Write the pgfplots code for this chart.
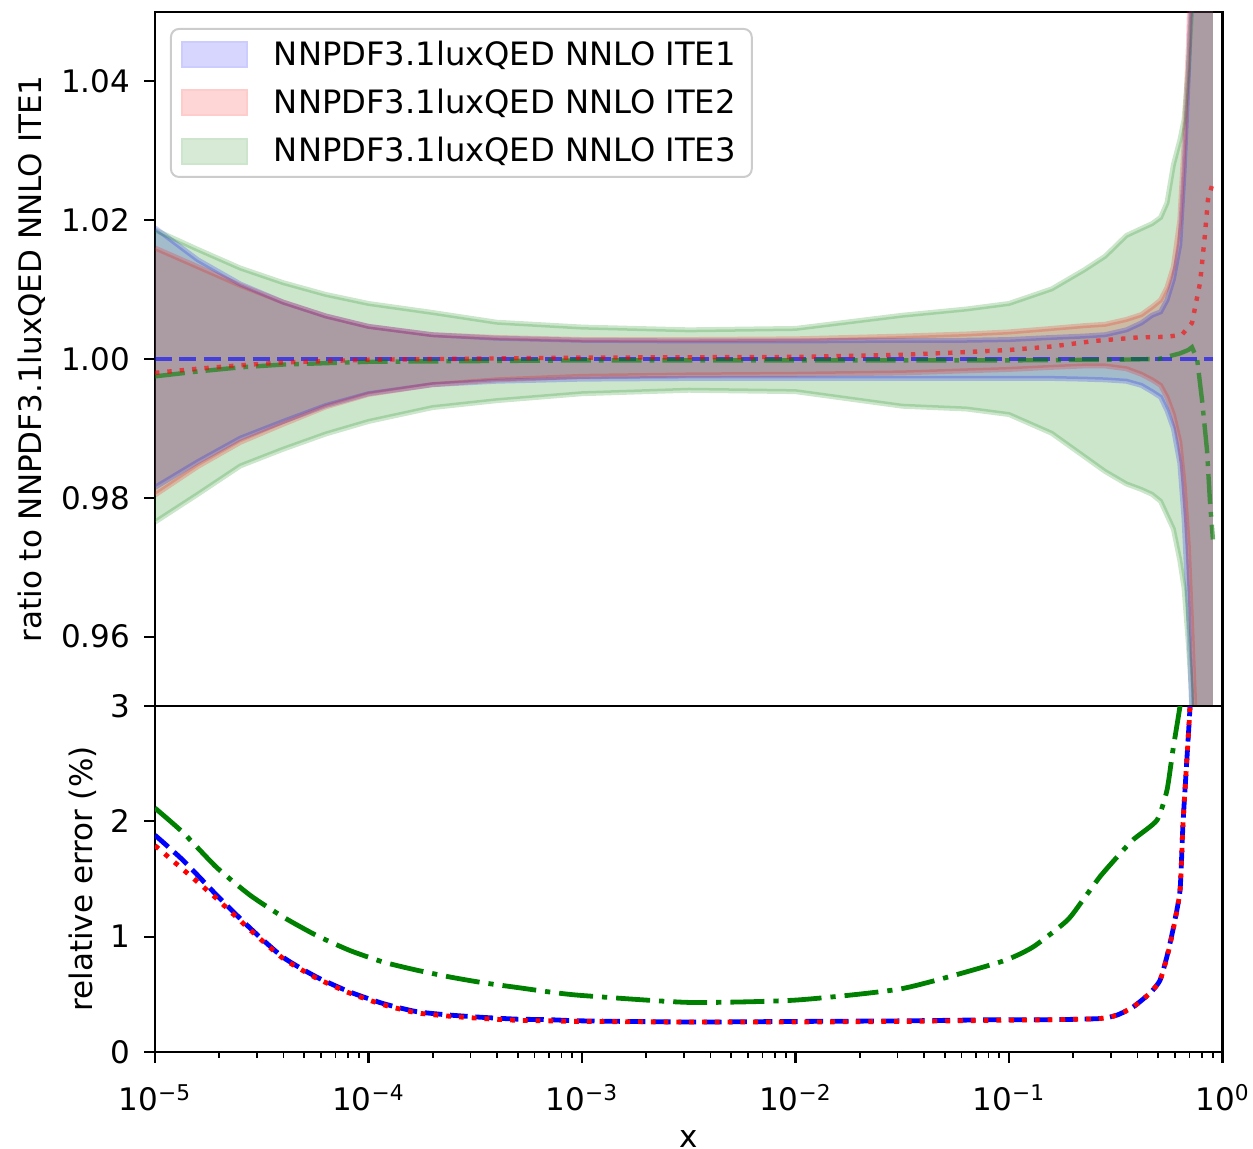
\documentclass[border=0pt]{standalone}
\usepackage{fontspec}
\setmainfont{DejaVu Sans}
\usepackage{pgfplots}
\pgfplotsset{compat=1.18}
\usepackage{pgfplotstable}
\usepgfplotslibrary{fillbetween}
\definecolor{mblue}{RGB}{0,0,255}
\definecolor{mred}{RGB}{255,0,0}
\definecolor{mgreen}{RGB}{0,128,0}

% ITE1 band (blue)
\pgfplotstableread{
x lo hi
1e-5 0.9815 1.0189
1.585e-5 0.9852 1.0143
2.512e-5 0.9886 1.0108
3.981e-5 0.9910 1.0082
6.310e-5 0.9933 1.0062
1e-4 0.9950 1.0047
1.995e-4 0.9963 1.0035
3.981e-4 0.9968 1.0030
1e-3 0.9971 1.0027
3.162e-3 0.9972 1.0026
1e-2 0.9972 1.0026
3.162e-2 0.9972 1.0027
6.310e-2 0.9972 1.0027
0.1 0.9972 1.0028
0.1585 0.9972 1.0031
0.2239 0.9971 1.0033
0.2818 0.9970 1.0035
0.3548 0.9968 1.0042
0.4169 0.9962 1.0052
0.4677 0.9953 1.0063
0.5129 0.9945 1.0068
0.5495 0.9926 1.0085
0.5888 0.9900 1.0115
0.6310 0.9850 1.0165
0.6607 0.9770 1.0270
0.6918 0.9640 1.0410
0.7161 0.9500 1.0550
0.7413 0.9300 1.0800
0.7762 0.8 1.2
0.8128 0.8 1.2
0.8511 0.8 1.2
0.9016 0.8 1.2
}\bandA
% ITE2 band (red)
\pgfplotstableread{
x lo hi
1e-5 0.9804 1.0160
1.585e-5 0.9845 1.0133
2.512e-5 0.9880 1.0106
3.981e-5 0.9906 1.0082
6.310e-5 0.9931 1.0062
1e-4 0.9949 1.0047
1.995e-4 0.9963 1.0035
3.981e-4 0.9970 1.0031
1e-3 0.9975 1.0028
3.162e-3 0.9977 1.0028
1e-2 0.9978 1.0029
3.162e-2 0.9980 1.0033
6.310e-2 0.9983 1.0036
0.1 0.9985 1.0039
0.1585 0.9988 1.0044
0.2239 0.9990 1.0048
0.2818 0.9990 1.0050
0.3548 0.9986 1.0057
0.4169 0.9978 1.0064
0.4677 0.9970 1.0075
0.5129 0.9962 1.0085
0.5495 0.9945 1.0103
0.5888 0.9920 1.0133
0.6310 0.9880 1.0200
0.6607 0.9820 1.0310
0.6918 0.9730 1.0450
0.7161 0.9620 1.0600
0.7413 0.9500 1.0800
0.7762 0.9300 1.2
0.8128 0.8 1.2
0.8511 0.8 1.2
0.9016 0.8 1.2
}\bandB
% ITE3 band (green)
\pgfplotstableread{
x lo hi
1e-5 0.9765 1.0186
1.585e-5 0.9805 1.0158
2.512e-5 0.9846 1.0131
3.981e-5 0.9870 1.0110
6.310e-5 0.9892 1.0093
1e-4 0.9910 1.0080
1.995e-4 0.9930 1.0067
3.981e-4 0.9940 1.0053
1e-3 0.9950 1.0046
3.162e-3 0.9955 1.0042
1e-2 0.9953 1.0044
3.162e-2 0.9932 1.0063
6.310e-2 0.9928 1.0072
0.1 0.9920 1.0080
0.1585 0.9893 1.0101
0.2239 0.9860 1.0128
0.2818 0.9838 1.0148
0.3548 0.9820 1.0178
0.4169 0.9812 1.0188
0.4677 0.9805 1.0195
0.5129 0.9795 1.0204
0.5495 0.9775 1.0225
0.5888 0.9755 1.0280
0.6310 0.9710 1.0315
0.6607 0.9670 1.0345
0.6918 0.9590 1.0420
0.7161 0.9520 1.0500
0.7413 0.9300 1.0700
0.7762 0.8 1.2
0.8128 0.8 1.2
0.8511 0.8 1.2
0.9016 0.8 1.2
}\bandC
% central values
\pgfplotstableread{
x y
1e-5 1.0
0.9016 1.0
}\cenA
\pgfplotstableread{
x y
1e-5 0.9980
1.585e-5 0.9986
2.512e-5 0.9991
3.981e-5 0.9995
1e-4 0.9999
1e-3 1.0002
1e-2 1.0003
3.162e-2 1.0006
6.310e-2 1.0010
0.1 1.0013
0.1585 1.0018
0.2512 1.0026
0.3981 1.0031
0.5495 1.0032
0.6457 1.0035
0.7194 1.0052
0.7852 1.0110
0.8279 1.0180
0.8551 1.0230
0.8933 1.0250
}\cenB
\pgfplotstableread{
x y
1e-5 0.9975
1.585e-5 0.9982
2.512e-5 0.9988
3.981e-5 0.9992
1e-4 0.9996
1e-3 0.9998
1e-2 0.9998
0.1 0.9998
0.3162 0.9999
0.5012 1.0000
0.5623 1.0004
0.6310 1.0008
0.6918 1.0013
0.7194 1.0017
0.7603 1.0000
0.8017 0.9941
0.8453 0.9870
0.8730 0.9796
0.9016 0.9740
}\cenC
% relative errors
\pgfplotstableread{
x y
1e-5 1.88
1.358e-5 1.66
1.945e-5 1.36
2.786e-5 1.075
3.99e-5 0.82
5.715e-5 0.65
8.185e-5 0.52
1.172e-4 0.42
1.679e-4 0.35
2.41e-4 0.32
3.451e-4 0.30
4.943e-4 0.285
7.079e-4 0.28
1e-3 0.27
3.162e-3 0.26
1e-2 0.265
3.162e-2 0.27
9.078e-2 0.28
0.1585 0.28
0.2667 0.29
0.3206 0.32
0.3811 0.39
0.4571 0.51
0.5093 0.62
0.5495 0.83
0.5861 1.06
0.6324 1.40
0.6531 1.98
0.6823 2.56
0.7047 3.0
0.7244 3.6
0.7586 5.0
}\errA
\pgfplotstableread{
x y
1e-5 1.79
1.358e-5 1.58
1.945e-5 1.33
2.786e-5 1.06
3.99e-5 0.81
5.715e-5 0.64
8.185e-5 0.51
1.172e-4 0.41
1.679e-4 0.34
2.41e-4 0.31
3.451e-4 0.29
4.943e-4 0.275
7.079e-4 0.27
1e-3 0.265
3.162e-3 0.26
1e-2 0.26
3.162e-2 0.265
9.078e-2 0.275
0.1585 0.28
0.2667 0.29
0.3206 0.32
0.3811 0.39
0.4571 0.51
0.5093 0.62
0.5495 0.82
0.5861 1.05
0.6324 1.40
0.6531 1.98
0.6823 2.56
0.7047 3.0
0.7244 3.6
0.7586 5.0
}\errB
\pgfplotstableread{
x y
1e-5 2.115
1.358e-5 1.90
1.945e-5 1.60
2.786e-5 1.36
3.99e-5 1.17
5.715e-5 1.01
8.185e-5 0.88
1.172e-4 0.78
1.679e-4 0.71
2.41e-4 0.65
3.451e-4 0.60
4.943e-4 0.56
7.079e-4 0.52
1e-3 0.49
3.162e-3 0.43
1e-2 0.45
3.162e-2 0.55
9.078e-2 0.78
0.1294 0.91
0.1871 1.14
0.2223 1.32
0.2667 1.52
0.3206 1.69
0.3811 1.84
0.4932 2.01
0.5495 2.27
0.5861 2.62
0.6324 3.0
0.6607 3.3
}\errC

\newcommand{\fs}{\fontsize{15.5}{18}\selectfont}
\newcommand{\lfs}{\fontsize{16.1}{18}\selectfont}

\begin{document}
\begin{tikzpicture}[font=\fs]
% ---------- top panel ----------
\begin{axis}[
  scale only axis, width=533.75pt, height=347pt,
  at={(77.5pt,221pt)}, anchor=south west,
  xmode=log, xmin=1e-5, xmax=1,
  ymin=0.95, ymax=1.05,
  axis line style={line width=1.4pt},
  tick align=outside, tick pos=left,
  major tick length=5.3pt,
  every major tick/.append style={line width=1.1pt, black},
  tick label style={font=\fs},
  label style={font=\fs},
  yticklabel style={anchor=east, inner sep=0pt, xshift=-7pt},
  xtick=\empty,
  ytick={0.96,0.98,1.00,1.02,1.04},
  yticklabels={0.96,0.98,1.00,1.02,1.04},
  ylabel={ratio to NNPDF3.1luxQED NNLO ITE1},
  every axis y label/.style={at={([xshift=-61.5pt]axis description cs:0,0.5)}, rotate=90, anchor=center},
  legend style={at={(0.014,0.977)}, anchor=north west, font=\lfs,
    draw=black!20, line width=1pt, rounded corners=4pt,
    fill=white, fill opacity=0.8, text opacity=1,
    inner xsep=5pt, inner ysep=3pt, row sep=4.4pt,
    nodes={inner sep=3pt}},
  legend cell align=left,
]
% blue band
\addplot[draw=mblue, draw opacity=0.2, line width=2.5pt, name path=bu, forget plot] table[x=x,y=hi]{\bandA};
\addplot[draw=mblue, draw opacity=0.2, line width=2.5pt, name path=bl, forget plot] table[x=x,y=lo]{\bandA};
\addplot[fill=mblue, fill opacity=0.2, draw=none, forget plot] fill between[of=bu and bl];
% red band
\addplot[draw=mred, draw opacity=0.2, line width=2.5pt, name path=ru, forget plot] table[x=x,y=hi]{\bandB};
\addplot[draw=mred, draw opacity=0.2, line width=2.5pt, name path=rl, forget plot] table[x=x,y=lo]{\bandB};
\addplot[fill=mred, fill opacity=0.2, draw=none, forget plot] fill between[of=ru and rl];
% green band
\addplot[draw=mgreen, draw opacity=0.2, line width=2.5pt, name path=gu, forget plot] table[x=x,y=hi]{\bandC};
\addplot[draw=mgreen, draw opacity=0.2, line width=2.5pt, name path=gl, forget plot] table[x=x,y=lo]{\bandC};
\addplot[fill=mgreen, fill opacity=0.2, draw=none, forget plot] fill between[of=gu and gl];
% central lines
\addplot[draw=mblue, draw opacity=0.6, line width=2.2pt, dash pattern=on 8.5pt off 3.7pt, forget plot] table[x=x,y=y]{\cenA};
\addplot[draw=mgreen, draw opacity=0.6, line width=2.2pt, dash pattern=on 15pt off 4pt on 2.4pt off 4pt, forget plot] table[x=x,y=y]{\cenC};
\addplot[draw=mred, draw opacity=0.6, line width=2.2pt, dash pattern=on 2.2pt off 4pt, forget plot] table[x=x,y=y]{\cenB};
% legend
\addlegendimage{legend image code/.code={\fill[mblue!20, sharp corners] (0pt,-6.25pt) rectangle (32.5pt,6.25pt);}}
\addlegendentry{\hspace*{10pt}NNPDF3.1luxQED NNLO ITE1}
\addlegendimage{legend image code/.code={\fill[mred!20, sharp corners] (0pt,-6.25pt) rectangle (32.5pt,6.25pt);}}
\addlegendentry{\hspace*{10pt}NNPDF3.1luxQED NNLO ITE2}
\addlegendimage{legend image code/.code={\fill[mgreen!20, sharp corners] (0pt,-6.25pt) rectangle (32.5pt,6.25pt);}}
\addlegendentry{\hspace*{10pt}NNPDF3.1luxQED NNLO ITE3}
\end{axis}
% ---------- bottom panel ----------
\begin{axis}[
  scale only axis, width=533.75pt, height=173pt,
  at={(77.5pt,48pt)}, anchor=south west,
  xmode=log, xmin=1e-5, xmax=1,
  ymin=0, ymax=3,
  axis line style={line width=1.4pt},
  tick align=outside, tick pos=left,
  major tick length=5.3pt, minor tick length=2.8pt,
  every major tick/.append style={line width=1.1pt, black},
  every minor tick/.append style={line width=0.8pt, black},
  tick label style={font=\fs},
  label style={font=\fs},
  yticklabel style={anchor=east, inner sep=0pt, xshift=-7pt},
  xticklabel style={anchor=base, inner sep=0pt, yshift=-24pt},
  ytick={0,1,2,3}, yticklabels={0,1,2,3},
  xtick={1e-5,1e-4,1e-3,1e-2,1e-1,1},
  xticklabels={10\textsuperscript{−5},10\textsuperscript{−4},10\textsuperscript{−3},10\textsuperscript{−2},10\textsuperscript{−1},10\textsuperscript{0}},
  minor xtick={2e-5,3e-5,4e-5,5e-5,6e-5,7e-5,8e-5,9e-5,2e-4,3e-4,4e-4,5e-4,6e-4,7e-4,8e-4,9e-4,2e-3,3e-3,4e-3,5e-3,6e-3,7e-3,8e-3,9e-3,2e-2,3e-2,4e-2,5e-2,6e-2,7e-2,8e-2,9e-2,0.2,0.3,0.4,0.5,0.6,0.7,0.8,0.9},
  ylabel={relative error (\%)},
  every axis y label/.style={at={([xshift=-36.25pt]axis description cs:0,0.5)}, rotate=90, anchor=center},
  xlabel={x},
  every axis x label/.style={at={([yshift=-47.5pt]axis description cs:0.5,0)}, anchor=base},
]
\addplot[draw=mblue, line width=2.4pt, smooth, tension=0.35, dash pattern=on 8.9pt off 3.8pt, forget plot] table[x=x,y=y]{\errA};
\addplot[draw=mred, line width=2.4pt, smooth, tension=0.35, dash pattern=on 2.4pt off 4pt, forget plot] table[x=x,y=y]{\errB};
\addplot[draw=mgreen, line width=2.4pt, smooth, tension=0.35, dash pattern=on 17pt off 4.5pt on 2.6pt off 4.5pt, forget plot] table[x=x,y=y]{\errC};
\end{axis}
\pgfresetboundingbox
\path[use as bounding box] (0,0) rectangle (626.5pt,574pt);
\end{tikzpicture}
\end{document}
